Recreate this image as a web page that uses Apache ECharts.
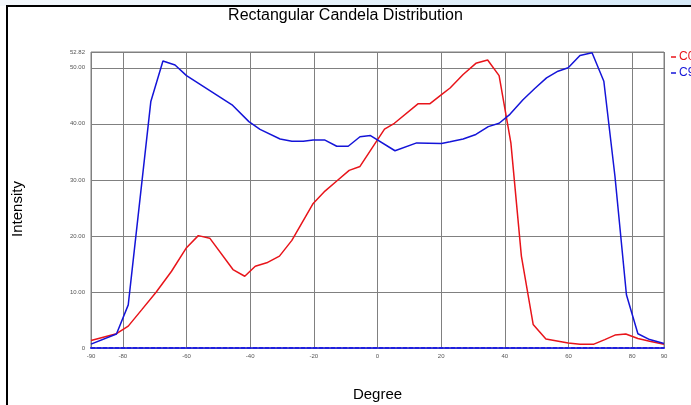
<!DOCTYPE html>
<html>
<head>
    <meta charset="utf-8">
    <title>Rectangular Candela Distribution</title>
    <script src="https://cdn.jsdelivr.net/npm/echarts@6/dist/echarts.min.js"></script>
    <style>
        html, body { margin: 0; padding: 0; background: #fff; }
        #main { width: 691px; height: 405px; }
    </style>
</head>
<body>
<div id="main"></div>
<script>
    // tick values on the degree axis
    var degreeTicks = [-90, -80, -60, -40, -20, 0, 20, 40, 60, 80, 90];

    // C0 (red) – degree / intensity pairs
    var c0Deg = [-90, -82, -78.3, -74.1, -69.5, -64.7, -60, -56.3, -52.7, -45.4, -41.7, -38.4, -34.8, -30.8, -26.9,
        -20.2, -16.5, -12.8, -8.9, -5.5, 2.2, 5.3, 12.8, 16.5, 20.1, 22.8, 26.9, 30.9, 34.6, 38.2, 41.9, 45.2, 48.9,
        52.9, 59.9, 63.6, 67.8, 71.4, 74.6, 78.0, 81.8, 85.5, 90];
    var c0Val = [1.35, 2.55, 3.9, 6.8, 10.0, 13.7, 17.9, 20.05, 19.6, 14.0, 12.8, 14.6, 15.2, 16.4, 19.2,
        25.8, 28.0, 29.8, 31.7, 32.4, 39.05, 40.1, 43.6, 43.6, 45.2, 46.4, 48.8, 50.8, 51.4, 48.6, 36.6, 16.4, 4.2,
        1.6, 0.9, 0.65, 0.65, 1.5, 2.3, 2.5, 1.7, 1.2, 0.65];

    // C9 (blue)
    var c9Deg = [-90, -82, -78.3, -71.2, -67.4, -63.6, -60, -45.7, -40.4, -36.9, -30.6, -26.9, -23.3, -20.2, -16.5,
        -12.8, -9.2, -5.5, -2.2, 5.5, 12.3, 20.1, 22.8, 26.9, 30.9, 34.8, 38.2, 41.6, 45.7, 49.4, 53.1, 56.7, 59.9,
        63.6, 67.4, 71.1, 74.6, 78.2, 81.8, 85.5, 90];
    var c9Val = [0.7, 2.5, 7.7, 44.0, 51.2, 50.5, 48.6, 43.4, 40.4, 39.0, 37.3, 36.9, 36.9, 37.1, 37.1,
        36.0, 36.0, 37.7, 37.9, 35.2, 36.6, 36.5, 36.8, 37.3, 38.1, 39.5, 40.1, 41.7, 44.3, 46.3, 48.2, 49.4, 50.0,
        52.2, 52.7, 47.6, 30.6, 9.5, 2.55, 1.5, 0.8];

    var yMax = 52.82;

    function pairs(xs, ys) {
        var out = [];
        for (var i = 0; i < xs.length; i++) {
            out.push([xs[i], ys[i]]);
        }
        return out;
    }

    var chart = echarts.init(document.getElementById('main'));

    var option = {
        backgroundColor: '#fff',
        animation: false,
        title: {
            text: 'Rectangular Candela Distribution',
            left: 'center',
            top: 3,
            textStyle: {
                color: '#000',
                fontSize: 16,
                fontWeight: 'normal',
                fontFamily: 'Liberation Sans, Arial'
            }
        },
        legend: {
            orient: 'vertical',
            left: 666,
            top: 46,
            itemGap: 4,
            itemWidth: 5,
            itemHeight: 1.5,
            icon: 'rect',
            data: [
                { name: 'C0', textStyle: { color: '#e8141a' } },
                { name: 'C9', textStyle: { color: '#1414d8' } }
            ],
            textStyle: {
                fontSize: 12,
                fontFamily: 'Liberation Sans, Arial',
                padding: [0, 0, 0, -2]
            }
        },
        graphic: [
            {
                type: 'rect',
                silent: true,
                z: -1,
                shape: { x: 0, y: 0, width: 691, height: 6 },
                style: {
                    fill: new echarts.graphic.LinearGradient(0, 0, 1, 0, [
                        { offset: 0, color: '#f4f8fc' },
                        { offset: 1, color: '#d6eaf8' }
                    ])
                }
            },
            {
                type: 'rect',
                silent: true,
                shape: { x: 7, y: 6, width: 700, height: 420 },
                style: { fill: 'none', stroke: '#000', lineWidth: 2 }
            }
        ],
        grid: {
            left: 91,
            right: 27,
            top: 52,
            bottom: 57,
            outerBoundsMode: 'none',
            show: true,
            borderColor: '#808080',
            borderWidth: 1
        },
        xAxis: {
            type: 'value',
            min: -90,
            max: 90,
            name: 'Degree',
            nameLocation: 'middle',
            nameGap: 39,
            nameTextStyle: { color: '#000', fontSize: 15, fontFamily: 'Liberation Sans, Arial' },
            axisLine: {
                show: true,
                onZero: false,
                lineStyle: { color: '#2020e0', width: 2, type: [4, 2] }
            },
            axisTick: { show: false, customValues: degreeTicks },
            axisLabel: {
                customValues: degreeTicks,
                color: '#555',
                fontSize: 6,
                margin: 5
            },
            splitLine: { show: true, lineStyle: { color: '#808080', width: 1 } }
        },
        yAxis: {
            type: 'value',
            min: 0,
            max: yMax,
            interval: 10,
            name: 'Intensity',
            nameLocation: 'middle',
            nameRotate: 90,
            nameGap: 66,
            nameTextStyle: {
                color: '#000',
                fontSize: 15,
                fontFamily: 'Liberation Sans, Arial',
                padding: [0, 18, 0, 0]
            },
            axisLine: { show: false },
            axisTick: { show: false },
            axisLabel: {
                color: '#555',
                fontSize: 6,
                margin: 6,
                showMaxLabel: true,
                formatter: function (v) {
                    return v === 0 ? '0' : v.toFixed(2);
                }
            },
            splitLine: { show: true, lineStyle: { color: '#808080', width: 1 } }
        },
        series: [
            {
                name: 'C0',
                type: 'line',
                showSymbol: false,
                color: '#e8141a',
                lineStyle: { width: 1.5 },
                data: pairs(c0Deg, c0Val)
            },
            {
                name: 'C9',
                type: 'line',
                showSymbol: false,
                color: '#1414d8',
                lineStyle: { width: 1.5 },
                data: pairs(c9Deg, c9Val)
            }
        ]
    };

    chart.setOption(option);
</script>
</body>
</html>
